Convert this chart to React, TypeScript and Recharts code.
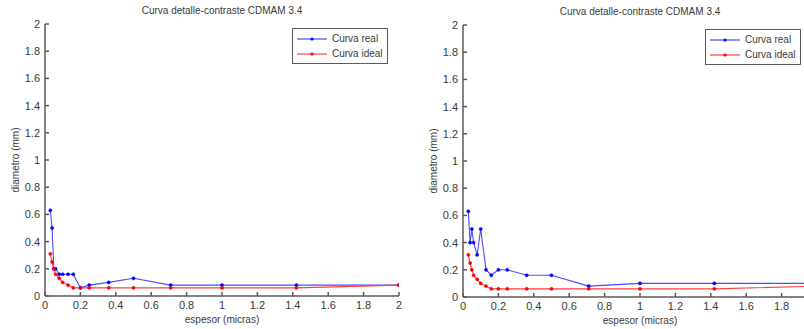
import { Legend, Line, LineChart, XAxis, YAxis } from "recharts";

const espesor = [0.03, 0.04, 0.05, 0.06, 0.08, 0.1, 0.13, 0.16, 0.2, 0.25, 0.36, 0.5, 0.71, 1.0, 1.42, 2.0];
const idealDiam = [0.31, 0.25, 0.2, 0.16, 0.13, 0.1, 0.08, 0.06, 0.06, 0.06, 0.06, 0.06, 0.06, 0.06, 0.06, 0.08];
const realDiamLeft = [0.63, 0.5, 0.2, 0.2, 0.16, 0.16, 0.16, 0.16, 0.06, 0.08, 0.1, 0.13, 0.08, 0.08, 0.08, 0.08];
const realDiamRight = [0.63, 0.4, 0.5, 0.4, 0.31, 0.5, 0.2, 0.16, 0.2, 0.2, 0.16, 0.16, 0.08, 0.1, 0.1, 0.1];

const xTicks = [0, 0.2, 0.4, 0.6, 0.8, 1, 1.2, 1.4, 1.6, 1.8, 2];
const yTicks = [0, 0.2, 0.4, 0.6, 0.8, 1, 1.2, 1.4, 1.6, 1.8, 2];

const TITLE = "Curva detalle-contraste CDMAM 3.4";
const X_LABEL = "espesor (micras)";
const Y_LABEL = "diametro (mm)";
const SERIES = [
  { name: "Curva real", line: "#4a4aff", dot: "#0000ff" },
  { name: "Curva ideal", line: "#ff4040", dot: "#ff0000" },
];

const FONT = "'Liberation Sans', Arial, sans-serif";
const AXIS = "#5a5a5a";
const TEXT = "#3a3a3a";

const toPoints = (vals: number[]) => espesor.map((x, i) => ({ x, y: vals[i] }));

function YTitle(props: { viewBox?: { x: number; y: number; width: number; height: number } }) {
  const vb = props.viewBox;
  if (!vb) return null;
  const x = vb.x + 10;
  const y = vb.y + vb.height / 2;
  return (
    <text
      x={x}
      y={y}
      transform={`rotate(-90, ${x}, ${y})`}
      textAnchor="middle"
      dominantBaseline="central"
      fill={TEXT}
      fontSize={10}
      fontFamily={FONT}
    >
      {Y_LABEL}
    </text>
  );
}

function LegendBox() {
  return (
    <div
      style={{
        border: `1.5px solid ${AXIS}`,
        background: "#fff",
        padding: "2px 4px 2px 3px",
        fontFamily: FONT,
        fontSize: 10,
        color: TEXT,
        lineHeight: "15px",
      }}
    >
      {SERIES.map((s) => (
        <div key={s.name} style={{ display: "flex", alignItems: "center" }}>
          <svg width={32} height={8} style={{ marginRight: 4 }}>
            <line x1={1} y1={4} x2={31} y2={4} stroke={s.line} strokeWidth={1.2} />
            <circle cx={16} cy={4} r={1.6} fill={s.dot} />
          </svg>
          <span>{s.name}</span>
        </div>
      ))}
    </div>
  );
}

function Panel({
  real,
  left,
  top,
  legendLeft,
  lastXLabel,
}: {
  real: number[];
  left: number;
  top: number;
  legendLeft: number;
  lastXLabel: boolean;
}) {
  const width = 402;
  const height = 329;
  return (
    <div style={{ position: "absolute", left, top, width, height }}>
      <div
        style={{
          position: "absolute",
          left: 45,
          width: 354,
          top: 5,
          textAlign: "center",
          fontFamily: FONT,
          fontSize: 10,
          color: TEXT,
          whiteSpace: "nowrap",
        }}
      >
        {TITLE}
      </div>
      <LineChart width={width} height={height} margin={{ top: 24, right: 3, bottom: 1, left: 5 }}>
        <XAxis
          xAxisId="b"
          type="number"
          dataKey="x"
          domain={[0, 2]}
          ticks={xTicks}
          allowDataOverflow
          height={32}
          stroke={AXIS}
          strokeWidth={1.5}
          tickSize={-4}
          tickMargin={9}
          tickFormatter={(v: number) => (v === 2 && !lastXLabel ? "" : String(v))}
          tick={{ fill: TEXT, fontSize: 11, fontFamily: FONT }}
          label={{ value: X_LABEL, position: "insideBottom", offset: 5, fill: TEXT, fontSize: 10, fontFamily: FONT }}
        />
        <XAxis
          xAxisId="t"
          orientation="top"
          type="number"
          dataKey="x"
          domain={[0, 2]}
          ticks={xTicks}
          allowDataOverflow
          height={0}
          mirror
          tick={false}
          tickSize={4}
          stroke={AXIS}
          strokeWidth={1.5}
        />
        <YAxis
          yAxisId="l"
          type="number"
          domain={[0, 2]}
          ticks={yTicks}
          allowDataOverflow
          width={40}
          stroke={AXIS}
          strokeWidth={1.5}
          tickSize={-4}
          tickMargin={9}
          tick={{ fill: TEXT, fontSize: 11, fontFamily: FONT }}
          label={<YTitle />}
        />
        <YAxis
          yAxisId="r"
          orientation="right"
          type="number"
          domain={[0, 2]}
          ticks={yTicks}
          allowDataOverflow
          width={0}
          mirror
          tick={false}
          tickSize={4}
          stroke={AXIS}
          strokeWidth={1.5}
        />
        <Legend
          layout="vertical"
          align="center"
          verticalAlign="middle"
          content={<LegendBox />}
          wrapperStyle={{ left: legendLeft, top: 28, width: "auto", height: "auto" }}
        />
        <Line
          xAxisId="b"
          yAxisId="l"
          data={toPoints(real)}
          dataKey="y"
          name={SERIES[0].name}
          type="linear"
          stroke={SERIES[0].line}
          strokeWidth={1.1}
          dot={{ r: 1.6, fill: SERIES[0].dot, stroke: SERIES[0].dot, strokeWidth: 0.5 }}
          activeDot={false}
          isAnimationActive={false}
        />
        <Line
          xAxisId="b"
          yAxisId="l"
          data={toPoints(idealDiam)}
          dataKey="y"
          name={SERIES[1].name}
          type="linear"
          stroke={SERIES[1].line}
          strokeWidth={1.1}
          dot={{ r: 1.6, fill: SERIES[1].dot, stroke: SERIES[1].dot, strokeWidth: 0.5 }}
          activeDot={false}
          isAnimationActive={false}
        />
      </LineChart>
    </div>
  );
}

export default function App() {
  return (
    <div
      style={{
        position: "fixed",
        left: 0,
        top: 0,
        width: 804,
        height: 329,
        overflow: "hidden",
        background: "#fff",
      }}
    >
      <Panel real={realDiamLeft} left={0} top={0} legendLeft={292} lastXLabel />
      <Panel real={realDiamRight} left={418} top={1} legendLeft={287} lastXLabel={false} />
    </div>
  );
}
